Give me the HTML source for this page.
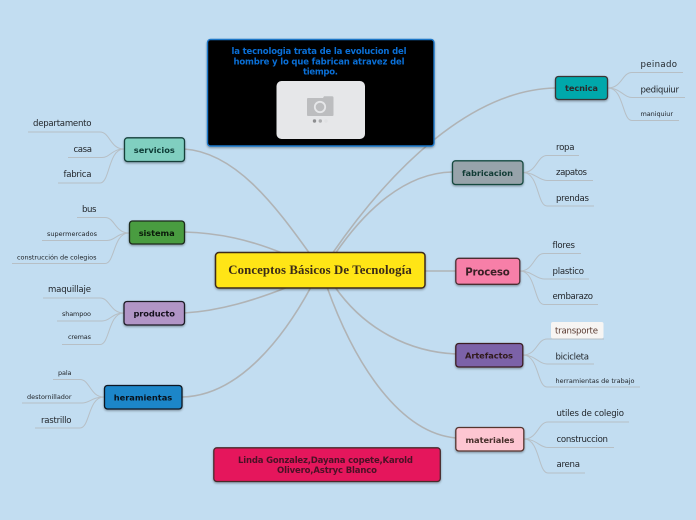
<!DOCTYPE html>
<html lang="es">
<head>
<meta charset="utf-8">
<title>Conceptos Básicos De Tecnología</title>
<style>
html,body{margin:0;padding:0;background:#c2ddf1;}
svg{display:block;}
text{font-family:"DejaVu Sans",sans-serif;}
.m{fill:none;stroke:#b0b3b5;stroke-width:1.6;}
.l{fill:none;stroke:#b7bfc5;stroke-width:1;}
.t{fill:#22262b;}
.b{font-weight:bold;text-anchor:middle;}
</style>
</head>
<body>
<svg width="696" height="520" viewBox="0 0 696 520" xmlns="http://www.w3.org/2000/svg">
<defs>
<filter id="s" x="-10%" y="-20%" width="120%" height="150%"><feDropShadow dx="0" dy="1.2" stdDeviation="1" flood-color="#000" flood-opacity=".35"/></filter>
</defs>
<rect width="696" height="520" fill="#c2ddf1"/>

<!-- main connectors -->
<path class="m" d="M184 149C235 152 275 205 310 254"/>
<path class="m" d="M184 232C220 233 250 240 282 253"/>
<path class="m" d="M184 313C220 311 255 300 288 287"/>
<path class="m" d="M182 397C240 396 285 335 311 287"/>
<path class="m" d="M555 88C470 90 390 170 332 254"/>
<path class="m" d="M452 172C405 173 365 210 335 254"/>
<path class="m" d="M425 271H456"/>
<path class="m" d="M335 287C365 330 410 352 456 354"/>
<path class="m" d="M327 287C355 365 400 433 456 438"/>

<!-- leaf connectors left -->
<path class="l" d="M28 132H100C110 132 110 149 124 149"/>
<path class="l" d="M68 157.500H102C110 157.500 112 149 124 149"/>
<path class="l" d="M58 183H100C110 183 108 149 124 149"/>
<path class="l" d="M77 217.500H105C115 217.500 115 233 129 233"/>
<path class="l" d="M42 240.500H107C115 240.500 117 233 129 233"/>
<path class="l" d="M12 263.500H105C115 263.500 113 233 129 233"/>
<path class="l" d="M43 298H100C110 298 110 313 124 313"/>
<path class="l" d="M57 321H102C110 321 112 313 124 313"/>
<path class="l" d="M62 344.500H100C110 344.500 108 313 124 313"/>
<path class="l" d="M53 379.500H80C90 379.500 90 397 104 397"/>
<path class="l" d="M22 403H82C90 403 92 397 104 397"/>
<path class="l" d="M35 428H80C90 428 88 397 104 397"/>

<!-- leaf connectors right -->
<path class="l" d="M608 88C622 88 622 72.500 632 72.500H683"/>
<path class="l" d="M608 88C620 88 624 97.500 632 97.500H685"/>
<path class="l" d="M608 88C624 88 622 120.500 632 120.500H679"/>
<path class="l" d="M523 172.500C537 172.500 537 155.500 547 155.500H579"/>
<path class="l" d="M523 172.500C535 172.500 539 180.500 547 180.500H593"/>
<path class="l" d="M523 172.500C539 172.500 537 206 547 206H594"/>
<path class="l" d="M520 271C534 271 534 253.500 544 253.500H581"/>
<path class="l" d="M520 271C532 271 536 279 544 279H589"/>
<path class="l" d="M520 271C536 271 534 304.500 544 304.500H598"/>
<path class="l" d="M523 355C537 355 537 339 547 339H604"/>
<path class="l" d="M523 355C535 355 539 364 547 364H594"/>
<path class="l" d="M523 355C539 355 537 387 547 387H640"/>
<path class="l" d="M524 439C538 439 538 422 548 422H629"/>
<path class="l" d="M524 439C536 439 540 447.500 548 447.500H614"/>
<path class="l" d="M524 439C540 439 538 473 548 473H585"/>

<!-- black node -->
<rect x="207.500" y="39.500" width="226.500" height="106.500" rx="3" fill="#020406" stroke="#1d76c8" stroke-width="1.400" filter="url(#s)"/>
<g font-size="8.500" font-weight="bold" text-anchor="middle">
<text x="319" y="54" textLength="175" lengthAdjust="spacing" style="fill:#0a6fd6">la tecnologia trata de la evolucion del</text>
<text x="319" y="64.500" textLength="171" lengthAdjust="spacing" style="fill:#0a6fd6">hombre y lo que fabrican atravez del</text>
<text x="320.500" y="74.500" textLength="35" lengthAdjust="spacing" style="fill:#0a6fd6">tiempo.</text>
</g>
<rect x="276.500" y="81" width="88.500" height="58" rx="5" fill="#e6e7e9"/>
<path d="M307 99q0-1 1-1h15l1-1.800h8q1.500 0 1.500 1.500V115q0 1-1 1H308q-1 0-1-1z" fill="#bcbdbf"/>
<circle cx="320" cy="107" r="5.200" fill="none" stroke="#e6e7e9" stroke-width="1.800"/>
<circle cx="314.500" cy="121" r="1.700" fill="#8d8e90"/>
<circle cx="320.300" cy="121" r="1.700" fill="#acadaf"/>
<circle cx="326" cy="121" r="1.700" fill="#e0e1e3"/>

<!-- branch nodes -->
<g filter="url(#s)">
<rect x="124.500" y="137.800" width="60" height="23.700" rx="3" fill="#80cfc0" stroke="#143f3a" stroke-width="1.300"/>
<rect x="129.500" y="221" width="55" height="23" rx="3" fill="#4a9c3f" stroke="#1c2a1c" stroke-width="1.300"/>
<rect x="124" y="301.500" width="60.500" height="23.500" rx="3" fill="#b195c6" stroke="#1d1a25" stroke-width="1.300"/>
<rect x="104.500" y="385.500" width="77.500" height="23.500" rx="3" fill="#1f86c9" stroke="#0d1620" stroke-width="1.300"/>
<rect x="555.500" y="76.500" width="52" height="23" rx="3" fill="#04a8ab" stroke="#3a3436" stroke-width="1.300"/>
<rect x="452.500" y="160.800" width="70.500" height="23.700" rx="3" fill="#97a3aa" stroke="#14493f" stroke-width="1.300"/>
<rect x="455.800" y="258.300" width="64" height="26" rx="3" fill="#f77fa8" stroke="#4c2f33" stroke-width="1.300"/>
<rect x="455.800" y="343.500" width="67" height="23.500" rx="3" fill="#7b62a8" stroke="#3a1f22" stroke-width="1.300"/>
<rect x="455.800" y="427.500" width="68" height="23.500" rx="3" fill="#fdc6d2" stroke="#54352f" stroke-width="1.300"/>
<rect x="215.500" y="252.500" width="209.500" height="35.500" rx="3.500" fill="#ffe512" stroke="#3d2a1c" stroke-width="1.500"/>
<rect x="213.800" y="447.800" width="226.500" height="33.700" rx="3" fill="#e5195c" stroke="#4a2a2c" stroke-width="1.300"/>
</g>

<!-- branch labels -->
<g font-size="8.300">
<text class="b" x="154.300" y="153" fill="#0d3c36" textLength="41" lengthAdjust="spacing">servicios</text>
<text class="b" x="156.700" y="236" fill="#0a1a0a" textLength="36" lengthAdjust="spacing">sistema</text>
<text class="b" x="154.200" y="316.500" fill="#14101c" textLength="41.500" lengthAdjust="spacing">producto</text>
<text class="b" x="143" y="400.500" fill="#08121c" textLength="58.500" lengthAdjust="spacing">heramientas</text>
<text class="b" x="581.500" y="91" fill="#2c2a2c" textLength="33" lengthAdjust="spacing">tecnica</text>
<text class="b" x="487.500" y="176" fill="#123c36" textLength="51" lengthAdjust="spacing">fabricacion</text>
<text class="b" x="487.500" y="275.500" font-size="10.200" fill="#3c2026" textLength="44.500" lengthAdjust="spacing">Proceso</text>
<text class="b" x="489" y="358.500" fill="#301a1c" textLength="48" lengthAdjust="spacing">Artefactos</text>
<text class="b" x="490" y="443" fill="#48302c" textLength="49" lengthAdjust="spacing">materiales</text>
<text class="b" x="320" y="274" font-size="12.800" fill="#3a2a18" textLength="183.500" lengthAdjust="spacing" style="font-family:'Liberation Serif',serif">Conceptos Básicos De Tecnología</text>
<text class="b" x="325.500" y="463" font-size="8.500" fill="#4a1226" textLength="175" lengthAdjust="spacing">Linda Gonzalez,Dayana copete,Karold</text>
<text class="b" x="327" y="473" font-size="8.500" fill="#4a1226" textLength="100" lengthAdjust="spacing">Olivero,Astryc Blanco</text>
</g>

<!-- white highlight -->
<rect x="551" y="322" width="52.500" height="16.500" rx="2" fill="#f7f5f3"/>

<!-- leaf labels -->
<g>
<text class="t" x="33" y="126" font-size="8.600" textLength="58.500" lengthAdjust="spacing">departamento</text>
<text class="t" x="73.500" y="152" font-size="8.600" textLength="18.500" lengthAdjust="spacing">casa</text>
<text class="t" x="63.500" y="177" font-size="8.600" textLength="28" lengthAdjust="spacing">fabrica</text>
<text class="t" x="82" y="212" font-size="8.600" textLength="14.500" lengthAdjust="spacing">bus</text>
<text class="t" x="47" y="236" font-size="6.500" textLength="50" lengthAdjust="spacing">supermercados</text>
<text class="t" x="17" y="259.500" font-size="6.500" textLength="79.500" lengthAdjust="spacing">construcción de colegios</text>
<text class="t" x="48" y="292" font-size="8.600" textLength="43" lengthAdjust="spacing">maquillaje</text>
<text class="t" x="62" y="316" font-size="6.500" textLength="29" lengthAdjust="spacing">shampoo</text>
<text class="t" x="68" y="339" font-size="6.500" textLength="23" lengthAdjust="spacing">cremas</text>
<text class="t" x="58" y="375" font-size="6.500" textLength="13.500" lengthAdjust="spacing">pala</text>
<text class="t" x="27" y="399" font-size="6.500" textLength="44.500" lengthAdjust="spacing">destornillador</text>
<text class="t" x="41" y="423" font-size="8.600" textLength="30.500" lengthAdjust="spacing">rastrillo</text>

<text class="t" x="640.500" y="67" font-size="8.600" textLength="36.500" lengthAdjust="spacing">peinado</text>
<text class="t" x="640.500" y="92.500" font-size="8.600" textLength="38.500" lengthAdjust="spacing">pediquiur</text>
<text class="t" x="640.500" y="116" font-size="6.500" textLength="32.500" lengthAdjust="spacing">maniquiur</text>
<text class="t" x="556" y="150" font-size="8.600" textLength="18.500" lengthAdjust="spacing">ropa</text>
<text class="t" x="556" y="175" font-size="8.600" textLength="31" lengthAdjust="spacing">zapatos</text>
<text class="t" x="556" y="201" font-size="8.600" textLength="33" lengthAdjust="spacing">prendas</text>
<text class="t" x="552.500" y="248" font-size="8.600" textLength="22.500" lengthAdjust="spacing">flores</text>
<text class="t" x="552.500" y="274" font-size="8.600" textLength="31.500" lengthAdjust="spacing">plastico</text>
<text class="t" x="552.500" y="299" font-size="8.600" textLength="40.500" lengthAdjust="spacing">embarazo</text>
<text x="555" y="333.500" font-size="8.600" fill="#5a3a30" textLength="43" lengthAdjust="spacing">transporte</text>
<text class="t" x="555.500" y="359.500" font-size="8.600" textLength="33.500" lengthAdjust="spacing">bicicleta</text>
<text class="t" x="555.500" y="383" font-size="6.500" textLength="79" lengthAdjust="spacing">herramientas de trabajo</text>
<text class="t" x="556.500" y="416" font-size="8.600" textLength="67.500" lengthAdjust="spacing">utiles de colegio</text>
<text class="t" x="556.500" y="442" font-size="8.600" textLength="51.500" lengthAdjust="spacing">construccion</text>
<text class="t" x="556.500" y="467" font-size="8.600" textLength="23.500" lengthAdjust="spacing">arena</text>
</g>
</svg>
</body>
</html>
